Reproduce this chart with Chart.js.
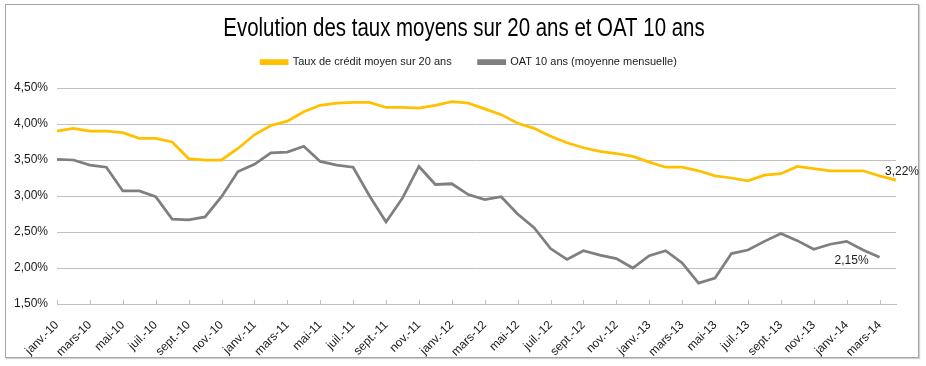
<!DOCTYPE html>
<html>
<head>
<meta charset="utf-8">
<script src="https://cdn.jsdelivr.net/npm/chart.js@4.4.1/dist/chart.umd.min.js"></script>
<style>
  html, body { margin: 0; padding: 0; background: #ffffff; }
  #wrap { position: relative; width: 926px; height: 366px; }
  #frame { position: absolute; left: 5px; top: 4px; width: 914px; height: 354px; border: 1px solid #a6a6a6; box-sizing: border-box; box-shadow: 1px 1px 1px #d0d0d0; }
  canvas { position: absolute; left: 0; top: 0; }
</style>
</head>
<body>
<div id="wrap">
  <div id="frame"></div>
  <canvas id="c" width="926" height="366"></canvas>
</div>
<script>
const months = [
  "janv.-10","févr.-10","mars-10","avr.-10","mai-10","juin-10","juil.-10","août-10","sept.-10","oct.-10","nov.-10","déc.-10",
  "janv.-11","févr.-11","mars-11","avr.-11","mai-11","juin-11","juil.-11","août-11","sept.-11","oct.-11","nov.-11","déc.-11",
  "janv.-12","févr.-12","mars-12","avr.-12","mai-12","juin-12","juil.-12","août-12","sept.-12","oct.-12","nov.-12","déc.-12",
  "janv.-13","févr.-13","mars-13","avr.-13","mai-13","juin-13","juil.-13","août-13","sept.-13","oct.-13","nov.-13","déc.-13",
  "janv.-14","févr.-14","mars-14","avr.-14"
];

const tauxCredit20 = [
  3.90, 3.94, 3.90, 3.90, 3.88, 3.80, 3.80, 3.75, 3.52, 3.50, 3.50, 3.66,
  3.85, 3.98, 4.04, 4.17, 4.26, 4.29, 4.30, 4.30, 4.23, 4.23, 4.22, 4.26,
  4.31, 4.29, 4.21, 4.13, 4.01, 3.94, 3.83, 3.74, 3.67, 3.62, 3.59, 3.55,
  3.47, 3.40, 3.40, 3.35, 3.28, 3.25, 3.21, 3.29, 3.31, 3.41, 3.38, 3.35,
  3.35, 3.35, 3.28, 3.22
];

const oat10 = [
  3.51, 3.50, 3.43, 3.40, 3.07, 3.07, 2.99, 2.68, 2.67, 2.71, 2.99, 3.34,
  3.44, 3.60, 3.61, 3.69, 3.48, 3.43, 3.40, 3.00, 2.64, 2.97, 3.41, 3.16,
  3.17, 3.02, 2.95, 2.99, 2.75, 2.56, 2.27, 2.12, 2.24, 2.18, 2.13, 2.00,
  2.17, 2.24, 2.07, 1.79, 1.86, 2.20, 2.25, 2.37, 2.48, 2.38, 2.26, 2.33,
  2.37, 2.25, 2.15, null
];

const yTicks = [1.5, 2.0, 2.5, 3.0, 3.5, 4.0, 4.5];
const titleText = "Evolution des taux moyens sur 20 ans et OAT 10 ans";
const seriesNames = ["Taux de crédit moyen sur 20 ans", "OAT 10 ans (moyenne mensuelle)"];
const seriesColors = ["#FFC000", "#7F7F7F"];

const regular = "'Liberation Sans', Arial, sans-serif";

function fmtPct(v) { return v.toFixed(2).replace('.', ',') + '%'; }

// Condensed title (the original uses a narrow font)
const condensedTitle = {
  id: 'condensedTitle',
  afterDraw(chart) {
    const ctx = chart.ctx;
    ctx.save();
    ctx.font = "26px " + regular;
    ctx.fillStyle = '#000';
    ctx.textAlign = 'center';
    ctx.textBaseline = 'alphabetic';
    ctx.translate(464, 36);
    ctx.scale(0.786, 1);
    ctx.fillText(titleText, 0, 0);
    ctx.restore();
  }
};

// Extra space between legend and plot area, and shift legend to the right
const legendSpacer = {
  id: 'legendSpacer',
  afterInit(chart) {
    const lg = chart.legend;
    if (!lg) return;
    const orig = lg.fit;
    lg.fit = function () { orig.call(this); this.height += 10.5; };
  },
  afterLayout(chart) {
    if (chart.legend) chart.legend.left += 42;
  }
};

const upTicks = {
  id: 'upTicks',
  afterDraw(chart) {
    const s = chart.scales.x;
    const ctx = chart.ctx;
    ctx.save();
    ctx.strokeStyle = '#bfbfbf';
    ctx.lineWidth = 1;
    const y = chart.chartArea.bottom;
    s.ticks.forEach((t, i) => {
      const x = Math.round(s.getPixelForTick(i)) + 0.5;
      ctx.beginPath();
      ctx.moveTo(x, y);
      ctx.lineTo(x, y - 4);
      ctx.stroke();
    });
    ctx.restore();
  }
};

const endLabels = {
  id: 'endLabels',
  afterDatasetsDraw(chart) {
    const ctx = chart.ctx;
    ctx.save();
    ctx.font = "12px " + regular;
    ctx.fillStyle = '#1a1a1a';
    ctx.textBaseline = 'middle';
    chart.data.datasets.forEach((ds, di) => {
      const meta = chart.getDatasetMeta(di);
      let idx = ds.data.length - 1;
      while (idx >= 0 && ds.data[idx] == null) idx--;
      if (idx < 0) return;
      const p = meta.data[idx];
      const txt = fmtPct(ds.data[idx]);
      if (di === 0) {
        ctx.textAlign = 'left';
        ctx.fillText(txt, p.x - 11, p.y - 8);
      } else {
        ctx.textAlign = 'right';
        ctx.fillText(txt, p.x - 11, p.y + 3);
      }
    });
    ctx.restore();
  }
};

new Chart(document.getElementById('c'), {
  type: 'line',
  data: {
    labels: months,
    datasets: [
      { label: seriesNames[0], data: tauxCredit20, borderColor: seriesColors[0], backgroundColor: seriesColors[0], borderWidth: 2.75, pointRadius: 0, tension: 0 },
      { label: seriesNames[1], data: oat10, borderColor: seriesColors[1], backgroundColor: seriesColors[1], borderWidth: 2.75, pointRadius: 0, tension: 0, spanGaps: false }
    ]
  },
  options: {
    responsive: false,
    animation: false,
    layout: { padding: { top: 29.5, left: 0, right: 30, bottom: 0 } },
    plugins: {
      title: { display: false },
      legend: {
        display: true,
        labels: {
          color: '#1a1a1a',
          font: { family: regular, size: 11 },
          boxWidth: 26,
          boxHeight: 3,
          padding: 27
        }
      },
      tooltip: { enabled: false }
    },
    scales: {
      x: {
        type: 'category',
        offset: false,
        grid: { display: false },
        border: { display: true, color: '#bfbfbf' },
        afterBuildTicks(s) { s.ticks = s.ticks.filter((t, i) => i % 2 === 0); },
        afterFit(s) { s.height = 62; },
        ticks: {
          autoSkip: false,
          minRotation: 45,
          maxRotation: 45,
          padding: 6,
          color: '#1a1a1a',
          font: { family: regular, size: 12 },
          callback(v) { return this.getLabelForValue(v); }
        }
      },
      y: {
        min: 1.5,
        max: 4.5,
        afterBuildTicks(s) { s.ticks = yTicks.map(v => ({ value: v })); },
        afterFit(s) { s.width = 57; },
        grid: { color: '#bfbfbf', lineWidth: 1, drawTicks: false },
        border: { display: false },
        ticks: {
          padding: 9,
          color: '#1a1a1a',
          font: { family: regular, size: 12 },
          callback(v) { return fmtPct(v); }
        }
      }
    }
  },
  plugins: [condensedTitle, legendSpacer, upTicks, endLabels]
});
</script>
</body>
</html>
